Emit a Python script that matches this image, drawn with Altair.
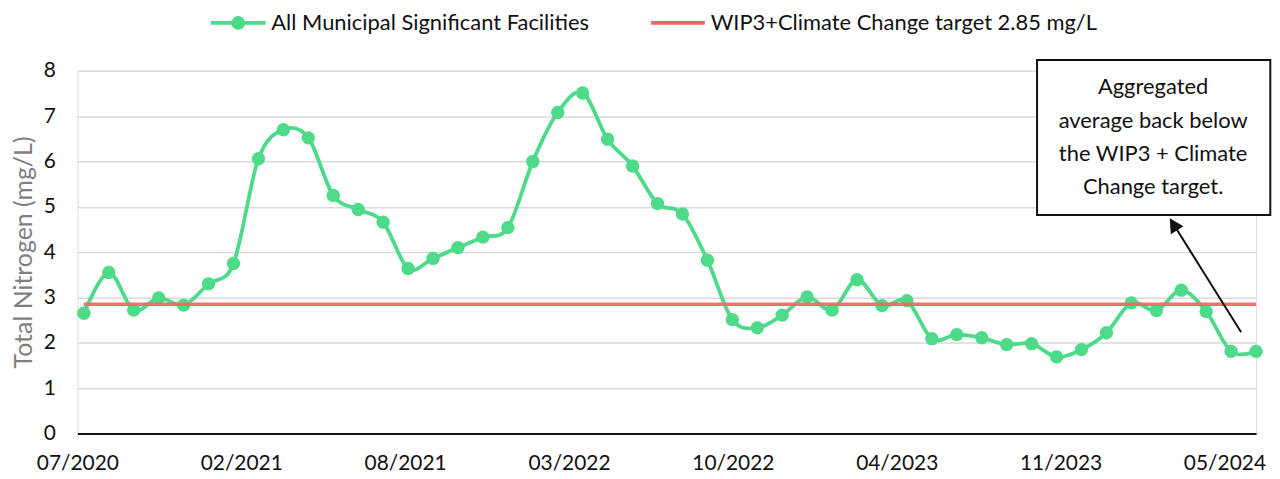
import altair as alt
import pandas as pd

# ---------------- data ----------------
months = [d.strftime("%m/%Y") for d in pd.date_range("2020-07-01", periods=48, freq="MS")]
total_nitrogen = [2.65, 3.55, 2.72, 2.99, 2.83, 3.30, 3.75, 6.06, 6.70, 6.52, 5.25, 4.94,
                  4.66, 3.64, 3.86, 4.10, 4.33, 4.54, 6.00, 7.08, 7.51, 6.49, 5.90, 5.07,
                  4.84, 3.82, 2.51, 2.33, 2.61, 3.01, 2.72, 3.39, 2.82, 2.93, 2.09, 2.18,
                  2.11, 1.96, 1.98, 1.69, 1.85, 2.22, 2.88, 2.71, 3.16, 2.69, 1.81, 1.81]
tick_labels = ["07/2020", "02/2021", "08/2021", "03/2022", "10/2022", "04/2023", "11/2023", "05/2024"]
target_value = 2.85
series_name = "All Municipal Significant Facilities"
target_name = "WIP3+Climate Change target 2.85 mg/L"
note_lines = ["Aggregated", "average back below", "the WIP3 + Climate", "Change target."]

# axis definition (date axis: major unit 200 days, expressed in months)
axis_start = -0.26
label_step = 200 / 30.44
tick_values = [axis_start + k * label_step for k in range(len(tick_labels))]

df = pd.DataFrame({"idx": list(range(len(total_nitrogen))), "month": months, "tn": total_nitrogen})
target_df = pd.DataFrame({"x0": [0], "x1": [len(total_nitrogen) - 1], "y": [target_value]})
one = pd.DataFrame({"d": [0]})

GREEN = "#4ddb8a"
RED = "#ff6262"
FONT = "Lato"
FS = 21
FS_TXT = 22

label_arr = "[" + ",".join(f"'{t}'" for t in tick_labels) + "]"
label_expr = f"{label_arr}[round((datum.value - ({axis_start}))/{label_step})]"

x_scale = alt.Scale(domain=[axis_start, len(total_nitrogen) - 1], nice=False, zero=False)
y_scale = alt.Scale(domain=[0, 8], nice=False)

x_axis = alt.Axis(values=tick_values, labelExpr=label_expr, grid=False, ticks=False, tickSize=0,
                  domain=True, domainColor="#111111", domainWidth=2, labelFontSize=FS,
                  labelColor="#111111", labelPadding=19, labelFlush=False, labelOverlap=False,
                  labelBound=False, title=None, labelFont=FONT)
y_axis = alt.Axis(values=list(range(0, 9)), grid=True, gridColor="#d9d9d9", gridWidth=1.5,
                  domain=False, ticks=False, tickSize=0, labelPadding=22, labelFontSize=FS,
                  labelColor="#111111", labelFont=FONT,
                  title="Total Nitrogen (mg/L)", titleColor="#7f7f7f", titleFontSize=25,
                  titleFontWeight="normal", titleFont=FONT, titleX=-54, titleY=182,
                  titleAngle=270, titleAlign="center", titleBaseline="middle")

base = alt.Chart(df).encode(
    x=alt.X("idx:Q", scale=x_scale, axis=x_axis),
    y=alt.Y("tn:Q", scale=y_scale, axis=y_axis),
)
line = base.mark_line(color=GREEN, strokeWidth=3.8, interpolate="cardinal")
points = base.mark_point(filled=True, color=GREEN, size=180, opacity=1)

target = alt.Chart(target_df).mark_rule(color=RED, strokeWidth=3.5, opacity=0.92).encode(
    x=alt.X("x0:Q", scale=x_scale), x2="x1:Q", y=alt.Y("y:Q", scale=y_scale)
)

# legend (drawn manually)
LY = -48
leg_g_line = alt.Chart(one).mark_rule(color=GREEN, strokeWidth=3.8).encode(
    x=alt.value(134), x2=alt.value(189), y=alt.value(LY))
leg_g_pt = alt.Chart(one).mark_point(filled=True, color=GREEN, size=190, opacity=1).encode(
    x=alt.value(161.6), y=alt.value(LY))
leg_g_txt = alt.Chart(one).mark_text(align="left", baseline="middle", fontSize=FS_TXT, font=FONT,
                                     color="#111111").encode(
    x=alt.value(194.8), y=alt.value(LY), text=alt.value(series_name))
leg_r_line = alt.Chart(one).mark_rule(color=RED, strokeWidth=3.8).encode(
    x=alt.value(576.3), x2=alt.value(630.3), y=alt.value(LY))
leg_r_txt = alt.Chart(one).mark_text(align="left", baseline="middle", fontSize=FS_TXT, font=FONT,
                                     color="#111111").encode(
    x=alt.value(636.1), y=alt.value(LY), text=alt.value(target_name))

# annotation box + arrow
box = alt.Chart(one).mark_rect(fill="white", stroke="#111111", strokeWidth=2).encode(
    x=alt.value(964), x2=alt.value(1198.3), y=alt.value(-10.7), y2=alt.value(145))
box_txt = alt.Chart(one).mark_text(align="center", baseline="middle", fontSize=FS_TXT, font=FONT,
                                   color="#111111", lineHeight=33.5).encode(
    x=alt.value(1080.6), y=alt.value(16.5), text=alt.value(note_lines))
arrow_line = alt.Chart(one).mark_rule(color="#111111", strokeWidth=2).encode(
    x=alt.value(1169), y=alt.value(262.7), x2=alt.value(1102.5), y2=alt.value(156.5))
arrow_head = alt.Chart(one).mark_point(shape="M0,-1L-1.07,1L1.07,1Z", filled=True, color="#111111",
                                       size=196, opacity=1, angle=327.9).encode(
    x=alt.value(1101), y=alt.value(154.2))

chart = alt.layer(
    line, points, target,
    leg_g_line, leg_g_pt, leg_g_txt, leg_r_line, leg_r_txt,
    box, box_txt, arrow_line, arrow_head,
).properties(
    width=1184, height=364.3,
    padding={"left": 69.7, "top": 62, "right": 16, "bottom": 40},
    autosize=alt.AutoSizeParams(type="none"),
).configure_view(stroke=None).configure(font=FONT)

chart.save("out.html", embed_options={"renderer": "svg", "actions": False})
